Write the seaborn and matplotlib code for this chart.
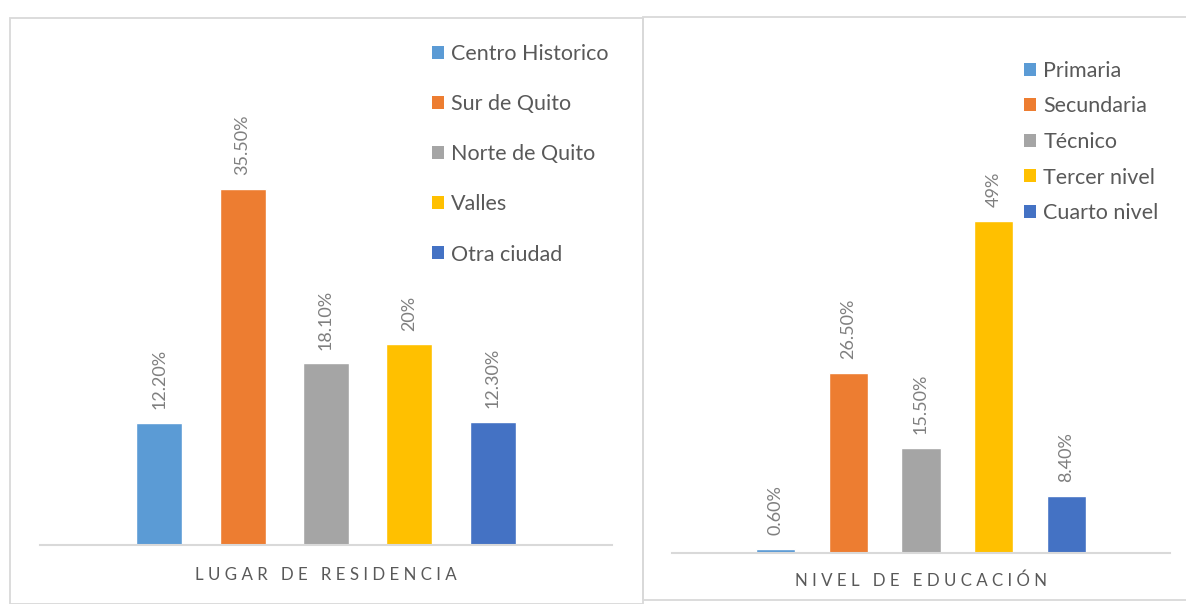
import matplotlib
matplotlib.use("Agg")
import matplotlib.pyplot as plt
from matplotlib.patches import Patch, Rectangle
import seaborn as sns
import pandas as pd

# ---- data ----
res_categories = ["Centro Historico", "Sur de Quito", "Norte de Quito", "Valles", "Otra ciudad"]
res_values = [12.2, 35.5, 18.1, 20.0, 12.3]
res_labels = ["12.20%", "35.50%", "18.10%", "20%", "12.30%"]
res_title = "LUGAR DE RESIDENCIA"

edu_categories = ["Primaria", "Secundaria", "Técnico", "Tercer nivel", "Cuarto nivel"]
edu_values = [0.6, 26.5, 15.5, 49.0, 8.4]
edu_labels = ["0.60%", "26.50%", "15.50%", "49%", "8.40%"]
edu_title = "NIVEL DE EDUCACIÓN"

colors = ["#5B9BD5", "#ED7D31", "#A5A5A5", "#FFC000", "#4472C4"]

sns.set_theme(style="white")
plt.rcParams["font.family"] = ["Lato", "DejaVu Sans"]

W, H = 1186, 604
fig = plt.figure(figsize=(W / 100, H / 100), dpi=100)
fig.patch.set_facecolor("white")


def frac(x0, y0, x1, y1):
    # pixel box (top-left origin) -> figure fraction rect
    return [x0 / W, 1 - y1 / H, (x1 - x0) / W, (y1 - y0) / H]


# panel borders
for (x0, y0, x1, y1) in [(10, 18, 643, 604), (643, 17, 1190, 600)]:
    r = frac(x0, y0, x1, y1)
    fig.patches.append(Rectangle((r[0], r[1]), r[2], r[3], transform=fig.transFigure,
                                 fill=False, edgecolor="#D9D9D9", linewidth=1.3))


def spaced(t):
    return "   ".join(" ".join(list(w)) for w in t.split(" "))


def panel(rect_px, cats, vals, labels, title, ymax, width, leg_anchor, labelspacing, title_y):
    ax = fig.add_axes(frac(*rect_px))
    df = pd.DataFrame({"cat": cats, "val": vals})
    sns.barplot(data=df, x="cat", y="val", hue="cat", palette=colors, order=cats,
                hue_order=cats, width=width, legend=False, ax=ax, saturation=1)
    ax.set_xlim(-1.43, 5.43)
    ax.set_ylim(0, ymax)
    for i, cont in enumerate(ax.containers):
        ax.bar_label(cont, labels=[labels[i]], rotation=90, padding=10,
                     color="#7F7F7F", fontsize=13)
    for s in ["top", "right", "left"]:
        ax.spines[s].set_visible(False)
    ax.spines["bottom"].set_color("#D9D9D9")
    ax.spines["bottom"].set_linewidth(1.5)
    ax.set_xticks([])
    ax.set_yticks([])
    ax.set_xlabel("")
    ax.set_ylabel("")
    ax.set_facecolor("none")
    handles = [Patch(facecolor=c, edgecolor="none") for c in colors]
    fig.legend(handles, cats, loc="upper left", bbox_to_anchor=leg_anchor,
               bbox_transform=fig.transFigure, frameon=False, fontsize=15.5,
               handlelength=0.55, handleheight=0.55, handletextpad=0.35,
               labelspacing=labelspacing, labelcolor="#595959", borderpad=0, borderaxespad=0)
    cx = (rect_px[0] + rect_px[2]) / 2
    fig.text(cx / W, 1 - title_y / H, spaced(title), ha="center", va="center",
             fontsize=12.2, color="#595959")
    return ax


panel((40, 45, 612, 545), res_categories, res_values, res_labels, res_title,
      500 / 10.03, 0.55, (432 / W, 1 - 44 / H), 1.40, 575)
panel((672, 45, 1170, 553), edu_categories, edu_values, edu_labels, edu_title,
      508 / 6.78, 0.54, (1024 / W, 1 - 61 / H), 0.72, 581)

fig.savefig("out.png", dpi=100, facecolor="white")
